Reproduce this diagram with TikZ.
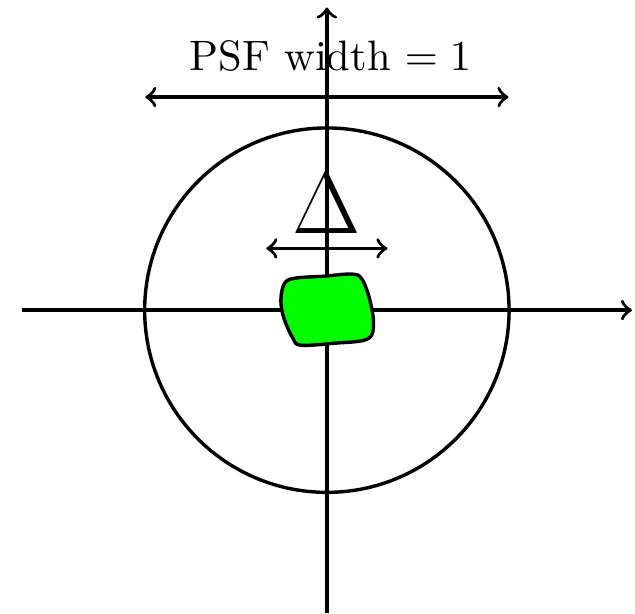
\documentclass[tikz,border=0pt]{standalone}
\usepackage{amsmath}
\usepackage{amssymb}
\usepackage{xcolor}

\begin{document}
\begin{tikzpicture}[thick, >=to]
        \useasboundingbox (-2.70,-2.504) rectangle (2.545,2.562);
        \coordinate (O) at (0,0);
        \coordinate (Xmin) at (-2.52,0);
        \coordinate (Xmax) at (2.52,0);
        \coordinate (Ymin) at (0,-2.5);
        \coordinate (Ymax) at (0,2.5);
        \coordinate (WidthL) at (-1.5,1.76);
        \coordinate (WidthR) at (1.5,1.76);
        \coordinate (DeltaL) at (-0.5,0.51);
        \coordinate (DeltaR) at (0.5,0.51);

        \draw [->] (Xmin) -- (Xmax);
        \draw [->] (Ymin) -- (Ymax);
        \draw (O) circle (1.505);

        \node (Width) at (0.03,2.1) {PSF width $= 1$};
        \draw [<->] (WidthL) -- (WidthR);

        \node (Delta) at (0,0.88) {\huge $\Delta$};
        \draw [<->] (DeltaL) -- (DeltaR);

        \draw [fill=green] plot [smooth cycle, tension=0.6] coordinates {
          (-0.380,0.083) (-0.350,0.220) (-0.264,0.264) (-0.017,0.281)
          (0.207,0.298) (0.289,0.256) (0.355,0.083) (0.385,-0.124)
          (0.331,-0.240) (0.066,-0.273) (-0.215,-0.289) (-0.281,-0.231)
          (-0.355,-0.066)};
      \end{tikzpicture}
\end{document}
